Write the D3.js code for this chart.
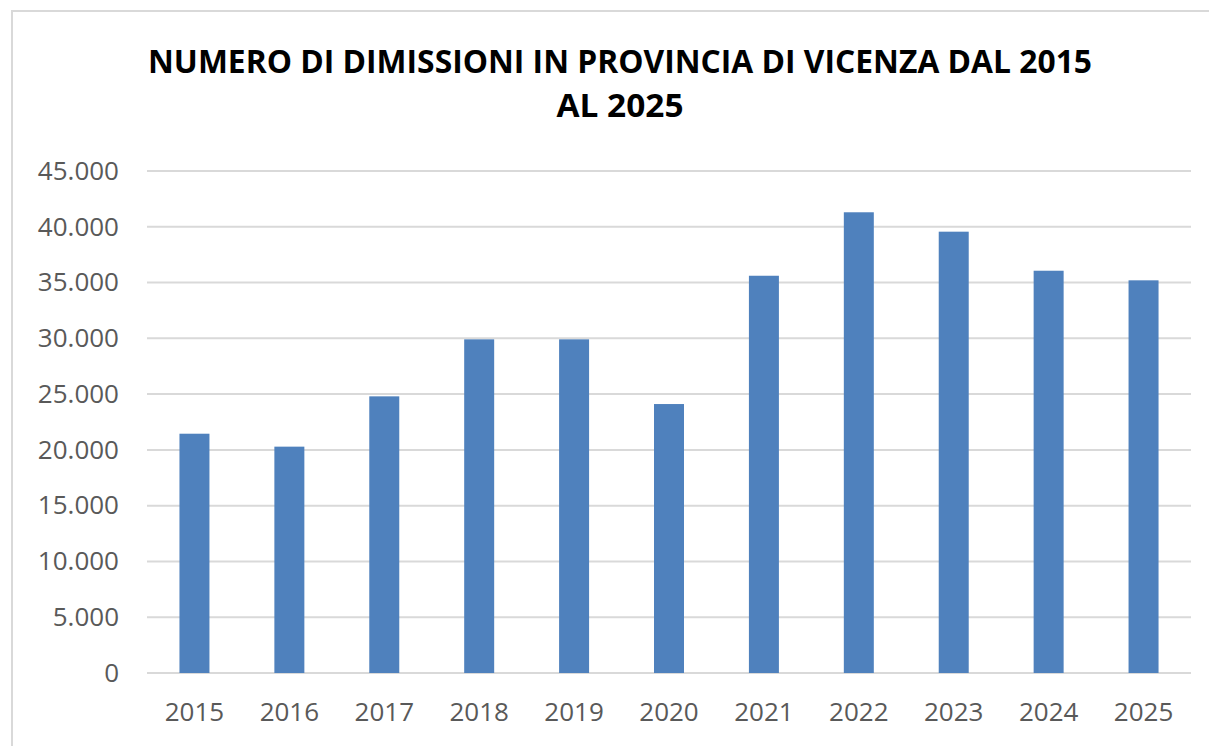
<!DOCTYPE html>
<html>
<head>
<meta charset="utf-8">
<script src="https://cdn.jsdelivr.net/npm/d3@7"></script>
<style>
  body { margin: 0; background: #ffffff; }
  svg { display: block; }
  text { font-family: "Open Sans", "Liberation Sans", sans-serif; }
</style>
</head>
<body>
<div id="chart"></div>
<script>
// #Data
const years = ['2015', '2016', '2017', '2018', '2019', '2020', '2021', '2022', '2023', '2024', '2025'];
const dimissioni = [21450, 20290, 24800, 29910, 29910, 24110, 35610, 41300, 39560, 36060, 35200];
const yTicks = [0, 5000, 10000, 15000, 20000, 25000, 30000, 35000, 40000, 45000];
const titleLines = ['NUMERO DI DIMISSIONI IN PROVINCIA DI VICENZA DAL 2015', 'AL 2025'];

// #Dimensions
const w = 1209;
const h = 746;
const plotLeft = 147;
const plotRight = 1191;
const plotTop = 171;
const plotBottom = 673;

const svg = d3.select('#chart')
              .append('svg')
              .attr('width', w)
              .attr('height', h);

// #Chart frame
svg.append('rect')
   .attr('x', 12)
   .attr('y', 11)
   .attr('width', w + 10)
   .attr('height', h + 10)
   .attr('fill', '#ffffff')
   .attr('stroke', '#d9d9d9')
   .attr('stroke-width', 2);

// #Scales
const xScale = d3.scaleBand()
                 .domain(years)
                 .range([plotLeft, plotRight])
                 .paddingInner(0.684)
                 .paddingOuter(0.342);

const yScale = d3.scaleLinear()
                 .domain([0, 45000])
                 .range([plotBottom, plotTop]);

const fmt = d => d === 0 ? '0' : d3.format(',')(d).replace(/,/g, '.');

// #Gridlines
svg.append('g')
   .attr('class', 'grid')
   .selectAll('line')
   .data(yTicks)
   .enter()
   .append('line')
   .attr('x1', plotLeft)
   .attr('x2', plotRight)
   .attr('y1', d => yScale(d))
   .attr('y2', d => yScale(d))
   .attr('stroke', '#d9d9d9')
   .attr('stroke-width', 2);

// #Y axis labels
const yAxis = d3.axisLeft(yScale)
                .tickValues(yTicks)
                .tickFormat(fmt)
                .tickSize(0)
                .tickPadding(28);
const gy = svg.append('g')
              .attr('transform', 'translate(' + plotLeft + ',0)')
              .call(yAxis);
gy.select('.domain').remove();
gy.selectAll('text')
  .attr('fill', '#595959')
  .style('font-size', '26px')
  .style('font-family', '"Open Sans", sans-serif');

// #Bars
svg.selectAll('rect.bar')
   .data(dimissioni)
   .enter()
   .append('rect')
   .attr('class', 'bar')
   .attr('x', (d, i) => xScale(years[i]))
   .attr('y', d => yScale(d))
   .attr('width', xScale.bandwidth())
   .attr('height', d => yScale(0) - yScale(d))
   .attr('fill', '#4f81bd');

// #X axis
const xAxis = d3.axisBottom(xScale)
                .tickSize(0)
                .tickPadding(30);
const gx = svg.append('g')
              .attr('transform', 'translate(0,' + plotBottom + ')')
              .call(xAxis);
gx.select('.domain').remove();
gx.selectAll('text')
  .attr('fill', '#595959')
  .style('font-size', '26px')
  .style('font-family', '"Open Sans", sans-serif');

// #Title
svg.append('text')
   .attr('x', 620)
   .attr('y', 73)
   .attr('text-anchor', 'middle')
   .attr('textLength', 944)
   .attr('lengthAdjust', 'spacingAndGlyphs')
   .style('font-size', '32px')
   .style('font-weight', 'bold')
   .attr('fill', '#000000')
   .text(titleLines[0]);

svg.append('text')
   .attr('x', 620)
   .attr('y', 117)
   .attr('text-anchor', 'middle')
   .attr('textLength', 127)
   .attr('lengthAdjust', 'spacingAndGlyphs')
   .style('font-size', '32px')
   .style('font-weight', 'bold')
   .attr('fill', '#000000')
   .text(titleLines[1]);
</script>
</body>
</html>
